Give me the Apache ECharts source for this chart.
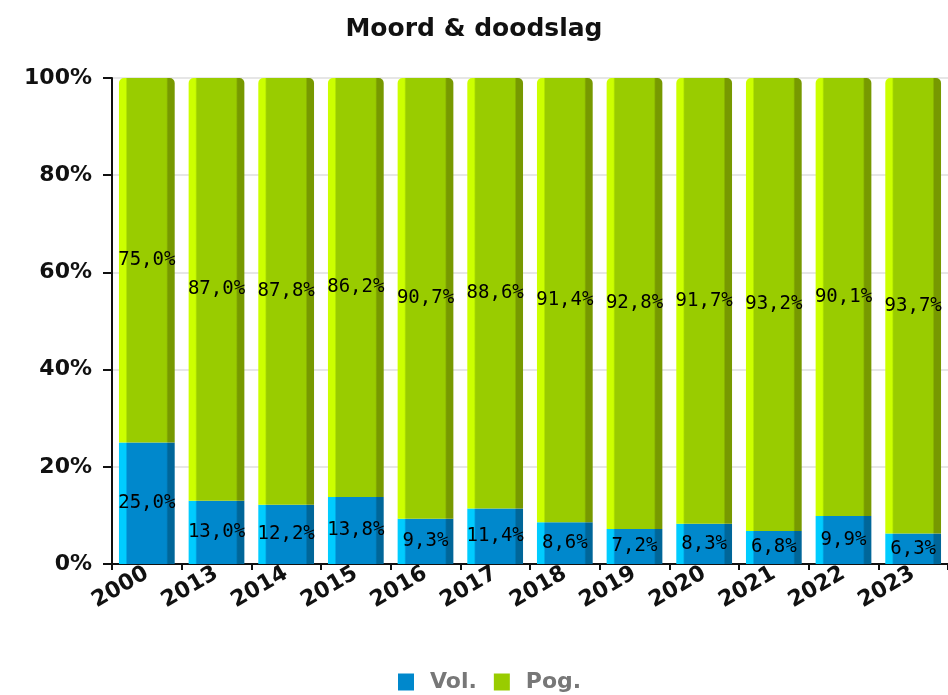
<!DOCTYPE html>
<html><head><meta charset="utf-8">
<script src="https://cdn.jsdelivr.net/npm/echarts@6/dist/echarts.min.js"></script>
<style>html,body{margin:0;padding:0;background:#fff}#c{width:948px;height:695px}</style>
</head><body><div id="c"></div>
<script>
const categories = ['2000','2013','2014','2015','2016','2017','2018','2019','2020','2021','2022','2023'];
const volValues = [25.0, 13.0, 12.2, 13.8, 9.3, 11.4, 8.6, 7.2, 8.3, 6.8, 9.9, 6.3];
const pogValues = [75.0, 87.0, 87.8, 86.2, 90.7, 88.6, 91.4, 92.8, 91.7, 93.2, 90.1, 93.7];
const yTicks = [0, 20, 40, 60, 80, 100];

function grad(light, mid, dark) {
  return new echarts.graphic.LinearGradient(0, 0, 1, 0, [
    {offset: 0, color: light}, {offset: 0.12, color: light},
    {offset: 0.15, color: mid}, {offset: 0.85, color: mid},
    {offset: 0.88, color: dark}, {offset: 1, color: dark}
  ]);
}
const fmt = p => p.value.toFixed(1).replace('.', ',') + '%';
const chart = echarts.init(document.getElementById('c'));
chart.setOption({
  animation: false,
  title: {text: 'Moord & doodslag', left: 'center', top: 12,
    textStyle: {fontFamily: 'DejaVu Sans', fontWeight: 'bold', fontSize: 25, color: '#111'}},
  grid: {left: 112, top: 78, width: 840, height: 486, containLabel: false},
  legend: {top: 666, left: 393, itemWidth: 16, itemHeight: 17, itemGap: 17, icon: 'rect',
    textStyle: {fontFamily: 'DejaVu Sans', fontWeight: 'bold', fontSize: 22, color: '#777', padding: [0, 0, 0, 11]},
    data: [{name: 'Vol.', itemStyle: {color: '#0088cc'}}, {name: 'Pog.', itemStyle: {color: '#99cc00'}}]},
  xAxis: {type: 'category', data: categories,
    axisLine: {lineStyle: {color: '#111', width: 2}},
    axisTick: {show: true, length: 6, lineStyle: {color: '#111', width: 2}},
    axisLabel: {rotate: 30, margin: 8, fontFamily: 'DejaVu Sans', fontWeight: 'bold', fontSize: 22, color: '#111'}},
  yAxis: {type: 'value', min: 0, max: 100, interval: 20,
    axisLine: {show: true, lineStyle: {color: '#111', width: 2}},
    axisTick: {show: true, length: 9, lineStyle: {color: '#111', width: 2}},
    splitLine: {lineStyle: {color: '#e6e6e6', width: 2}},
    axisLabel: {margin: 20, fontFamily: 'DejaVu Sans', fontWeight: 'bold', fontSize: 22, color: '#111',
      formatter: v => yTicks.includes(v) ? v + '%' : ''}},
  series: [
    {name: 'Vol.', type: 'bar', stack: 's', data: volValues, barCategoryGap: '20%',
      itemStyle: {color: grad('#00ccff', '#0088cc', '#006699')},
      label: {show: true, position: 'inside', formatter: fmt, fontFamily: 'DejaVu Sans Mono', fontSize: 19, color: '#000'}},
    {name: 'Pog.', type: 'bar', stack: 's', data: pogValues, barCategoryGap: '20%',
      itemStyle: {color: grad('#ccff00', '#99cc00', '#779900'), borderRadius: [5, 5, 0, 0]},
      label: {show: true, position: 'inside', formatter: fmt, fontFamily: 'DejaVu Sans Mono', fontSize: 19, color: '#000'}}
  ]
});
</script></body></html>
